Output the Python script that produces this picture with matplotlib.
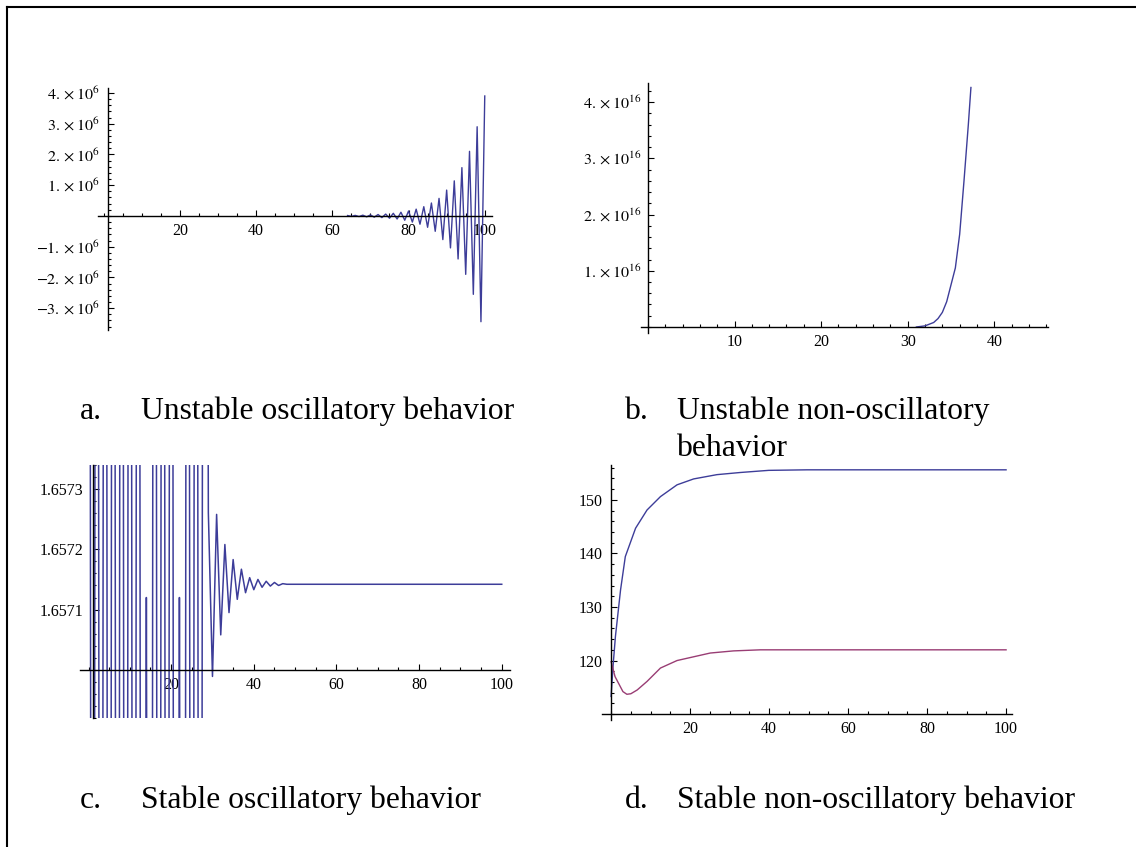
import matplotlib
matplotlib.use('Agg')
import matplotlib.pyplot as plt
from matplotlib.ticker import MultipleLocator, FixedLocator, FixedFormatter
from matplotlib.lines import Line2D

plt.rcParams['font.family'] = ['Liberation Serif', 'DejaVu Serif']
plt.rcParams['mathtext.fontset'] = 'stix'

# a. unstable oscillatory (values in units of 1e6)
a_t = list(range(64, 101))
a_val = [0.012, -0.015, 0.017, -0.02, 0.024, -0.03, 0.032, -0.04, 0.045, -0.055,
         0.06, -0.075, 0.085, -0.1, 0.12, -0.14, 0.16, -0.2, 0.22, -0.27,
         0.3, -0.37, 0.42, -0.5, 0.57, -0.77, 0.84, -1.04, 1.14, -1.4,
         1.57, -1.9, 2.1, -2.55, 2.9, -3.44, 3.9]
a_yticks = [-3, -2, -1, 1, 2, 3, 4]

# b. unstable non-oscillatory (units of 1e16)
b_t = [31, 32, 33, 33.5, 34, 34.5, 35, 35.5, 36, 36.5, 37, 37.3]
b_val = [0.0, 0.02, 0.08, 0.15, 0.26, 0.45, 0.75, 1.05, 1.65, 2.6, 3.6, 4.26]
b_yticks = [1, 2, 3, 4]

# c. stable oscillatory
c_t = list(range(0, 49)) + [100]
c_val = [1.6600, 1.6540, 1.6600, 1.6540, 1.6600, 1.6540, 1.6600, 1.6540, 1.6600, 1.6540,
         1.6600, 1.6540, 1.6600, 1.6540, 1.65712, 1.6540, 1.6600, 1.6540, 1.6600, 1.6540,
         1.6600, 1.6540, 1.65712, 1.6540, 1.6600, 1.6540, 1.6600, 1.6540, 1.6600,
         1.657261, 1.656989, 1.657258, 1.657058, 1.657208, 1.657095, 1.657183,
         1.657117, 1.657167, 1.657128, 1.657153, 1.657133, 1.657150, 1.657137,
         1.657147, 1.657139, 1.657145, 1.657140, 1.657143, 1.657142, 1.657142]
c_yticks = [1.6571, 1.6572, 1.6573]

# d. stable non-oscillatory
d_t1 = [0, 0.5, 1.1, 2.4, 3.6, 6.2, 9.1, 12.5, 16.7, 20.9, 26.8, 32.7, 39.9, 49.6, 100]
d_v1 = [113.3, 119, 124.5, 133.2, 139.4, 144.7, 148.1, 150.6, 152.8, 153.9, 154.7,
        155.1, 155.5, 155.6, 155.6]
d_t2 = [0, 1, 2, 3, 4, 5, 6.6, 9.1, 12.5, 16.7, 20.9, 25.1, 31, 37.8, 100]
d_v2 = [119.8, 117.0, 115.6, 114.2, 113.7, 113.8, 114.5, 116.1, 118.6, 120.0,
        120.7, 121.4, 121.8, 122.0, 122.0]

captions = [('a.', 'Unstable oscillatory behavior'),
            ('b.', 'Unstable non-oscillatory'),
            ('', 'behavior'),
            ('c.', 'Stable oscillatory behavior'),
            ('d.', 'Stable non-oscillatory behavior')]

W, H = 1136, 847
fig = plt.figure(figsize=(W / 100, H / 100), dpi=100)
blue = '#3d3d99'
purple = '#993d74'
tick_fs = 11.5
cap_fs = 22.8


def px_axes(x0, x1, y0, y1):
    return fig.add_axes([x0 / W, 1 - y1 / H, (x1 - x0) / W, (y1 - y0) / H])


def style(ax, xo, yo, xmaj, xmin, ymin, ypad):
    for s in ['top', 'right']:
        ax.spines[s].set_visible(False)
    ax.spines['left'].set_position(('data', xo))
    ax.spines['bottom'].set_position(('data', yo))
    ax.spines['left'].set_linewidth(1.0)
    ax.spines['bottom'].set_linewidth(1.0)
    ax.xaxis.set_major_locator(FixedLocator(xmaj))
    ax.xaxis.set_minor_locator(MultipleLocator(xmin))
    ax.yaxis.set_minor_locator(MultipleLocator(ymin))
    ax.tick_params(which='both', direction='in', width=0.8, labelsize=tick_fs)
    ax.tick_params(which='major', length=4)
    ax.tick_params(which='minor', length=2)
    ax.tick_params(axis='x', pad=5)
    ax.tick_params(axis='y', pad=ypad)
    ax.patch.set_visible(False)


# panel a
ax = px_axes(98, 492, 88, 330)
ax.plot(a_t, [v * 1e6 for v in a_val], color=blue, lw=1.0)
ax.set_xlim(-1.5, 101.9)
ax.set_ylim(-3.71e6, 4.16e6)
style(ax, 1, 0, [20, 40, 60, 80, 100], 5, 2e5, 6)
ax.yaxis.set_major_locator(FixedLocator([v * 1e6 for v in a_yticks]))
ax.yaxis.set_major_formatter(FixedFormatter(
    [r'$%d.\times10^{6}$' % v for v in a_yticks]))

# panel b
ax = px_axes(641, 1048, 83, 333)
ax.plot(b_t, [v * 1e16 for v in b_val], color=blue, lw=1.0)
ax.set_xlim(-0.8, 46.2)
ax.set_ylim(-0.107e16, 4.34e16)
style(ax, 0, 0, [10, 20, 30, 40], 2, 0.2e16, 5)
ax.yaxis.set_major_locator(FixedLocator([v * 1e16 for v in b_yticks]))
ax.yaxis.set_major_formatter(FixedFormatter(
    [r'$%d.\times10^{16}$' % v for v in b_yticks]))

# panel c
ax = px_axes(80, 510, 465, 718)
ax.plot(c_t, c_val, color=blue, lw=1.1)
ax.set_xlim(-2.06, 102.0)
ax.set_ylim(1.65692, 1.65734)
style(ax, 1, 1.657, [20, 40, 60, 80, 100], 5, 0.00002, 7)
ax.yaxis.set_major_locator(FixedLocator(c_yticks))
ax.yaxis.set_major_formatter(FixedFormatter(['%.4f' % v for v in c_yticks]))

# panel d
ax = px_axes(602, 1012, 465, 720)
ax.plot(d_t1, d_v1, color=blue, lw=1.0)
ax.plot(d_t2, d_v2, color=purple, lw=1.0)
ax.set_xlim(-2.3, 101.5)
ax.set_ylim(108.9, 156.5)
style(ax, 0, 110, [20, 40, 60, 80, 100], 5, 2, 6)
ax.yaxis.set_major_locator(FixedLocator([120, 130, 140, 150]))

# captions
cap_pos = [(80, 141, 419), (625, 677, 419), (625, 677, 456),
           (80, 141, 808), (625, 677, 808)]
for (lab, txt), (xl, xt, yb) in zip(captions, cap_pos):
    if lab:
        fig.text(xl / W, 1 - yb / H, lab, fontsize=cap_fs, va='baseline')
    fig.text(xt / W, 1 - yb / H, txt, fontsize=cap_fs, va='baseline')

# page frame
fig.add_artist(Line2D([7 / W, 7 / W], [0, 1 - 7 / H], color='black', lw=1.5))
fig.add_artist(Line2D([7 / W, 1], [1 - 7 / H, 1 - 7 / H], color='black', lw=1.5))

fig.savefig('out.png', dpi=100)
